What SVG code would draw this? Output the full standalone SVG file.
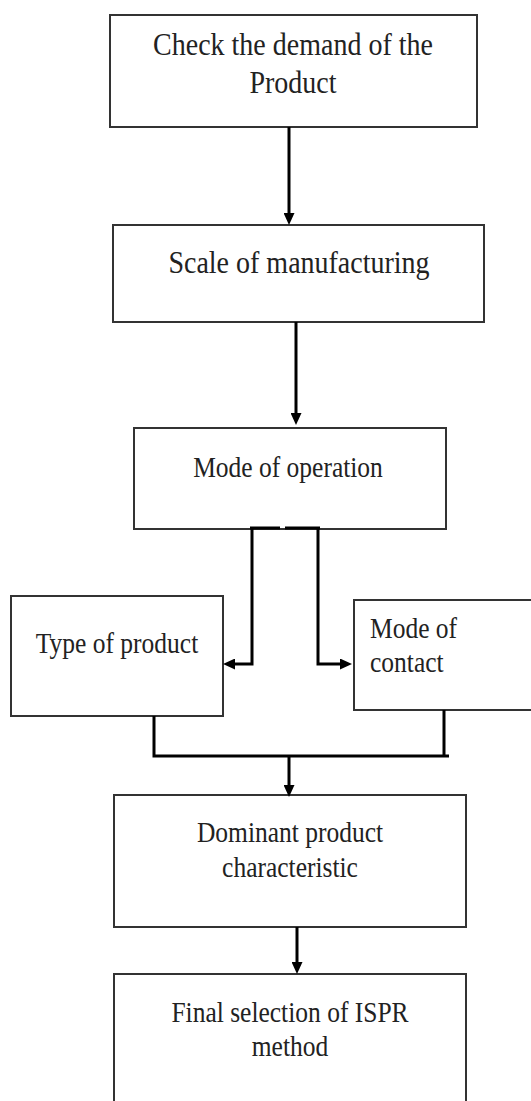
<svg xmlns="http://www.w3.org/2000/svg" width="531" height="1101" viewBox="0 0 531 1101">
<defs>
<style>
.box{fill:#fff;stroke:#333;stroke-width:2}
text{font-family:"Liberation Serif","Times New Roman",Times,serif;fill:#222;text-anchor:middle}
.big{font-size:28px}
.sm{font-size:25.5px}
.st{text-anchor:start}
.c{fill:none;stroke:#000;stroke-width:3}
</style>
<marker id="ah" markerUnits="userSpaceOnUse" markerWidth="12" markerHeight="11" refX="0" refY="5.5" orient="auto">
<path d="M0,0 L12,5.5 L0,11 z" fill="#000"/>
</marker>
</defs>
<rect width="531" height="1101" fill="#fff"/>
<g id="n1">
<rect class="box" x="110" y="15" width="367" height="112"/>
<text class="big" transform="translate(293,55) scale(1,1.12)">Check the demand of the</text>
<text class="big" transform="translate(293,93) scale(1,1.12)">Product</text>
</g>
<g id="n2">
<rect class="box" x="113" y="225" width="371" height="97"/>
<text class="big" transform="translate(299,273) scale(1,1.12)">Scale of manufacturing</text>
</g>
<g id="n3">
<rect class="box" x="134" y="428" width="312" height="101"/>
<text class="sm" transform="translate(288,477) scale(1,1.12)">Mode of operation</text>
</g>
<g id="n4">
<rect class="box" x="11" y="596" width="212" height="120"/>
<text class="sm" transform="translate(117,653) scale(1,1.12)">Type of product</text>
</g>
<g id="n5">
<rect class="box" x="354" y="600" width="190" height="110"/>
<text class="sm st" transform="translate(370,638) scale(1,1.12)">Mode of</text>
<text class="sm st" transform="translate(370,672) scale(1,1.12)">contact</text>
</g>
<g id="n6">
<rect class="box" x="114" y="795" width="352" height="132"/>
<text class="sm" transform="translate(290,842) scale(1,1.12)">Dominant product</text>
<text class="sm" transform="translate(290,877) scale(1,1.12)">characteristic</text>
</g>
<g id="n7">
<rect class="box" x="114" y="974" width="352" height="140"/>
<text class="sm" transform="translate(290,1022) scale(1,1.12)">Final selection of ISPR</text>
<text class="sm" transform="translate(290,1056) scale(1,1.12)">method</text>
</g>
<g id="connectors">
<path class="c" d="M289,127 L289,213" marker-end="url(#ah)"/>
<path class="c" d="M296,322 L296,413" marker-end="url(#ah)"/>
<path class="c" d="M250,528 L280,528 M285,528 L320,528"/>
<path class="c" d="M252,527 L252,664 L235,664" marker-end="url(#ah)"/>
<path class="c" d="M318,527 L318,664 L340,664" marker-end="url(#ah)"/>
<path class="c" d="M154,716 L154,756 L449,756 M444,710 L444,756"/>
<path class="c" d="M289,756 L289,785" marker-end="url(#ah)"/>
<path class="c" d="M297,927 L297,962" marker-end="url(#ah)"/>
</g>
</svg>
